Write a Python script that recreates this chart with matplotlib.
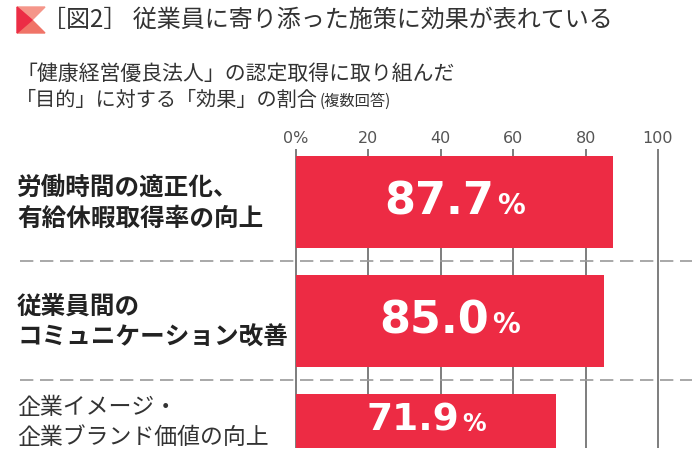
#!/usr/bin/env python3
"""Horizontal bar chart: effects of health-management certification."""

import matplotlib
matplotlib.use("Agg")
import matplotlib.pyplot as plt
from matplotlib.patches import Polygon
from matplotlib.transforms import blended_transform_factory
from matplotlib.offsetbox import TextArea, HPacker, AnnotationBbox

plt.rcParams["font.family"] = ["Noto Sans CJK JP", "DejaVu Sans"]

# data
categories = [
    "労働時間の適正化、\n有給休暇取得率の向上",
    "従業員間の\nコミュニケーション改善",
    "企業イメージ・\n企業ブランド価値の向上",
]
values = [87.7, 85.0, 71.9]
ticks = [0, 20, 40, 60, 80, 100]
tick_labels = ["0%", "20", "40", "60", "80", "100"]

title = "［図2］ 従業員に寄り添った施策に効果が表れている"
subtitle1 = "「健康経営優良法人」の認定取得に取り組んだ"
subtitle2 = "「目的」に対する「効果」の割合"
subtitle_note = "(複数回答)"

BAR = "#ED2B44"
W, H = 692, 462

fig = plt.figure(figsize=(W / 100, H / 100), dpi=100)


def fx(px):
    return px / W


def fy(py):
    return 1 - py / H


# axes: 0 -> 296px, 100 -> 658px; top 149px, bottom 448px
ppu = (658 - 296) / 100
ax = fig.add_axes([fx(296 - 0.5 * ppu), fy(448), fx(101 * ppu), (448 - 149) / H])
ax.set_xlim(-0.5, 100.5)
ax.set_ylim(2.07, -0.443)

bar_h = 0.773
pos = list(range(len(values)))
ax.barh(pos, values, height=bar_h, color=BAR, zorder=3)

ax.set_xticks(ticks)
ax.set_xticklabels(tick_labels, fontfamily="DejaVu Sans")
ax.xaxis.tick_top()
ax.tick_params(axis="x", length=0, pad=2, labelsize=11.5, labelcolor="#555555")
ax.set_yticks([])
ax.grid(axis="x", color="#5a5a5a", linewidth=1.1, zorder=0)
ax.set_axisbelow(True)
for s in ax.spines.values():
    s.set_visible(False)

blend = blended_transform_factory(fig.transFigure, ax.transData)

# dashed separators between categories
for y in [0.5, 1.5]:
    ax.plot([fx(20), 1.0], [y, y], transform=blend, color="#9a9a9a",
            linewidth=1.2, dashes=(8, 4), clip_on=False, zorder=2)

ybottom = ax.get_ylim()[0]
weights = ["bold", "bold", "normal"]
colors = ["#222222", "#222222", "#333333"]
num_sizes = [32, 32, 27]
pct_sizes = [20, 20, 17]
for i, (cat, v) in enumerate(zip(categories, values)):
    # centre of the visible part of the bar
    yc = min(i + bar_h / 2, ybottom)
    yc = (i - bar_h / 2 + yc) / 2
    ax.text(fx(17), yc + 0.015, cat, transform=blend, ha="left", va="center",
            fontsize=17.7 if weights[i] == "bold" else 16.5,
            fontweight=weights[i], color=colors[i], linespacing=1.38)
    num = TextArea(f"{v:.1f}", textprops=dict(color="white", fontsize=num_sizes[i],
                                               fontweight="bold", family="DejaVu Sans"))
    pct = TextArea("%", textprops=dict(color="white", fontsize=pct_sizes[i],
                                       fontweight="bold", family="DejaVu Sans"))
    box = HPacker(children=[num, pct], align="baseline", pad=0, sep=2)
    ab = AnnotationBbox(box, (v / 2, yc), frameon=False, box_alignment=(0.5, 0.5),
                        zorder=4)
    ax.add_artist(ab)

# title icon
ix0, ix1, iy0, iy1, icx = 17, 45, 7, 33, 32
icy = (iy0 + iy1) / 2
fig.patches.append(Polygon([(fx(ix0), fy(iy0)), (fx(ix1), fy(iy0)), (fx(icx), fy(icy))],
                           closed=True, transform=fig.transFigure, color="#F5968A"))
fig.patches.append(Polygon([(fx(ix0), fy(iy1)), (fx(ix1), fy(iy1)), (fx(icx), fy(icy))],
                           closed=True, transform=fig.transFigure, color="#F07468"))
fig.patches.append(Polygon([(fx(ix0), fy(iy0)), (fx(ix0), fy(iy1)), (fx(icx), fy(icy))],
                           closed=True, transform=fig.transFigure, color="#EC2D45"))

fig.text(fx(42), fy(20), title, ha="left", va="center", fontsize=17.3, color="#333333")
fig.text(fx(16), fy(74), subtitle1, ha="left", va="center", fontsize=15, color="#333333")
t2 = fig.text(fx(16), fy(100), subtitle2, ha="left", va="center", fontsize=14.5,
              color="#333333")
fig.canvas.draw()
bb = t2.get_window_extent()
fig.text(bb.x1 / W + fx(2), fy(101), subtitle_note, ha="left", va="center",
         fontsize=11, color="#333333")

fig.savefig("out.png", dpi=100)
